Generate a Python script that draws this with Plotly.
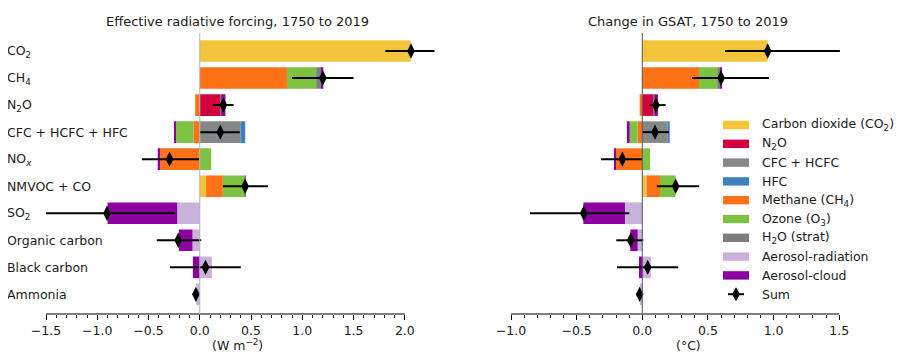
import plotly.graph_objects as go
from plotly.subplots import make_subplots

categories = ["CO<sub>2</sub>", "CH<sub>4</sub>", "N<sub>2</sub>O", "CFC + HCFC + HFC",
              "NO<sub><i>x</i></sub>", "NMVOC + CO", "SO<sub>2</sub>", "Organic carbon",
              "Black carbon", "Ammonia"]

components = ["Carbon dioxide (CO<sub>2</sub>)", "N<sub>2</sub>O", "CFC + HCFC", "HFC",
              "Methane (CH<sub>4</sub>)", "Ozone (O<sub>3</sub>)", "H<sub>2</sub>O (strat)",
              "Aerosol-radiation", "Aerosol-cloud"]
colors = ["#F4C43A", "#D2003C", "#85888A", "#3F80C0", "#FF7117", "#7EC244",
          "#7B7E80", "#C8B1DA", "#8C009F"]

# ERF (W m-2), per component, per emitted species (row order as categories)
erf = {
    "co2":   [2.057, 0, 0, 0, 0, 0.062, 0, 0, 0, 0],
    "n2o":   [0, 0, 0.20, 0, 0, 0, 0, 0, 0, 0],
    "cfc":   [0, 0, 0, 0.40, 0, 0, 0, 0, 0, 0],
    "hfc":   [0, 0, 0, 0.043, 0, 0, 0, 0, 0, 0],
    "ch4":   [0, 0.85, -0.045, -0.061, -0.386, 0.163, 0, 0, 0, 0],
    "o3":    [0, 0.285, 0, -0.172, 0.111, 0.211, 0, 0, 0, 0],
    "h2o":   [0, 0.055, 0.01, 0, 0, 0.008, 0, 0, 0, 0],
    "ari":   [0, 0, 0, 0, 0, 0, -0.22, -0.071, 0.118, -0.035],
    "aci":   [0, 0.015, 0.04, -0.017, -0.024, 0, -0.68, -0.133, -0.067, 0],
}
erf_sum = [2.06, 1.20, 0.23, 0.20, -0.295, 0.442, -0.905, -0.21, 0.056, -0.038]
erf_lo = [1.81, 0.90, 0.13, 0.0, -0.565, 0.225, -1.56, -0.42, -0.29, -0.038]
erf_hi = [2.29, 1.50, 0.33, 0.39, -0.006, 0.664, -0.243, 0.014, 0.40, -0.038]

# GSAT change (deg C)
gsat = {
    "co2":   [0.955, 0, 0, 0, 0, 0.033, 0, 0, 0, 0],
    "n2o":   [0, 0, 0.084, 0, 0, 0, 0, 0, 0, 0],
    "cfc":   [0, 0, 0, 0.193, 0, 0, 0, 0, 0, 0],
    "hfc":   [0, 0, 0, 0.016, 0, 0, 0, 0, 0, 0],
    "ch4":   [0, 0.432, -0.02, -0.036, -0.203, 0.102, 0, 0, 0, 0],
    "o3":    [0, 0.139, 0, -0.06, 0.059, 0.119, 0, 0, 0, 0],
    "h2o":   [0, 0.021, 0.01, 0, 0, 0, 0, 0, 0, 0],
    "ari":   [0, 0, 0, 0, 0, 0, -0.132, -0.035, 0.064, -0.017],
    "aci":   [0, 0.012, 0.025, -0.021, -0.012, 0, -0.317, -0.056, -0.025, 0],
}
gsat_sum = [0.955, 0.60, 0.104, 0.097, -0.152, 0.254, -0.446, -0.088, 0.041, -0.02]
gsat_lo = [0.63, 0.379, 0.053, 0.0, -0.315, 0.11, -0.855, -0.198, -0.193, -0.02]
gsat_hi = [1.505, 0.965, 0.178, 0.203, 0.0, 0.434, -0.099, 0.008, 0.274, -0.02]

left_ticks = [-1.5, -1.0, -0.5, 0.0, 0.5, 1.0, 1.5, 2.0]
right_ticks = [-1.0, -0.5, 0.0, 0.5, 1.0, 1.5]

keys = ["co2", "n2o", "cfc", "hfc", "ch4", "o3", "h2o", "ari", "aci"]
rows = list(range(len(categories)))

FONT = "DejaVu Sans"
FS = 12.5
BODY = 8  # default page body margin

# pixel geometry (as seen in the page)
L, R, T, B = 46.0, 866.0, 33.0, 314.0
W, H = R - L, B - T
left_range = [-1.5, 2.35]
right_range = [-1.0, 1.704]
left_end = 199.6 + 2.35 * 102.6
right_start = 511.0

def px(xp):
    return (xp - L) / W
def py(yp):
    return (B - yp) / H

fig = make_subplots(rows=1, cols=2)

for col, data, s, lo, hi in [(1, erf, erf_sum, erf_lo, erf_hi), (2, gsat, gsat_sum, gsat_lo, gsat_hi)]:
    for k, name, c in zip(keys, components, colors):
        fig.add_trace(go.Bar(y=rows, x=data[k], orientation="h", name=name,
                             marker=dict(color=c, line=dict(width=0)), width=0.8,
                             showlegend=False), row=1, col=col)
    fig.add_trace(go.Scatter(y=rows, x=s, mode="markers",
                             marker=dict(symbol="diamond-tall", size=11, color="black"),
                             error_x=dict(type="data", symmetric=False,
                                          array=[h - v for h, v in zip(hi, s)],
                                          arrayminus=[v - l for v, l in zip(s, lo)],
                                          thickness=2, width=0, color="black"),
                             showlegend=False, name="Sum"), row=1, col=col)

fig.update_layout(barmode="relative", width=906, height=360,
                  margin=dict(l=L - BODY, r=906 - R + BODY, t=T - BODY, b=360 - B + BODY),
                  plot_bgcolor="white", paper_bgcolor="white",
                  font=dict(family=FONT, size=FS, color="#1a1a1a"))

def minor_vals(ticks):
    n = int(round((ticks[-1] - ticks[0]) / 0.1))
    return [round(ticks[0] + 0.1 * i, 2) for i in range(n + 1)]

axis_common = dict(showline=False, ticks="outside", ticklen=5, tickcolor="black",
                   showgrid=False, zeroline=False, tickformat=".1f",
                   tickfont=dict(family=FONT, size=FS, color="#1a1a1a"))
fig.update_xaxes(range=left_range, tickvals=left_ticks, domain=[0, px(left_end)],
                 minor=dict(ticks="outside", ticklen=3, tickcolor="black",
                            tickvals=minor_vals(left_ticks), showgrid=False),
                 row=1, col=1, **axis_common)
fig.update_xaxes(range=right_range, tickvals=right_ticks, domain=[px(right_start), 1.0],
                 minor=dict(ticks="outside", ticklen=3, tickcolor="black",
                            tickvals=minor_vals(right_ticks), showgrid=False),
                 row=1, col=2, **axis_common)
fig.update_yaxes(range=[9.726, -0.666], visible=False, showgrid=False)

# bottom spines limited to tick span
fig.add_shape(type="line", xref="x", yref="paper", x0=left_ticks[0], x1=left_ticks[-1],
              y0=0, y1=0, line=dict(color="black", width=1))
fig.add_shape(type="line", xref="x2", yref="paper", x0=right_ticks[0], x1=right_ticks[-1],
              y0=0, y1=0, line=dict(color="black", width=1))

# zero lines
fig.add_shape(type="line", xref="x", yref="paper", x0=0, x1=0, y0=0, y1=1,
              line=dict(color="#b5b5b5", width=1), layer="above")
fig.add_shape(type="line", xref="x2", yref="paper", x0=0, x1=0, y0=0, y1=1,
              line=dict(color="#555555", width=1), layer="above")

# category labels
for i, cat in enumerate(categories):
    fig.add_annotation(text=cat, x=px(5), xref="paper", y=i, yref="y", xanchor="left",
                       yanchor="middle", showarrow=False, font=dict(size=FS))

# titles and axis labels
def label(text, xp, yp, size=FS, anchor="center"):
    fig.add_annotation(text=text, x=px(xp), y=py(yp), xref="paper", yref="paper",
                       xanchor=anchor, yanchor="middle", showarrow=False,
                       font=dict(size=size))

label("Effective radiative forcing, 1750 to 2019", 237, 21.5, 13)
label("Change in GSAT, 1750 to 2019", 688, 21.5, 13)
label("(W m<sup>−2</sup>)", 237.5, 345)
label("(°C)", 688.5, 345)

# legend (manual)
for j, (name, c) in enumerate(zip(components, colors)):
    yc = 125 + j * 18.8
    fig.add_shape(type="rect", xref="paper", yref="paper", x0=px(723), x1=px(749),
                  y0=py(yc - 4.2), y1=py(yc + 4.2), fillcolor=c, line=dict(width=0))
    label(name, 760, yc, FS, "left")
yc = 125 + 9 * 18.8
xc = 736
fig.add_shape(type="path", xref="paper", yref="paper",
              path=f"M {px(xc)},{py(yc-7)} L {px(xc+4)},{py(yc)} L {px(xc)},{py(yc+7)} L {px(xc-4)},{py(yc)} Z",
              fillcolor="black", line=dict(width=0))
fig.add_shape(type="line", xref="paper", yref="paper", x0=px(xc - 8), x1=px(xc + 8),
              y0=py(yc), y1=py(yc), line=dict(color="black", width=2))
label("Sum", 760, yc, FS, "left")

fig.write_html("out.html")
